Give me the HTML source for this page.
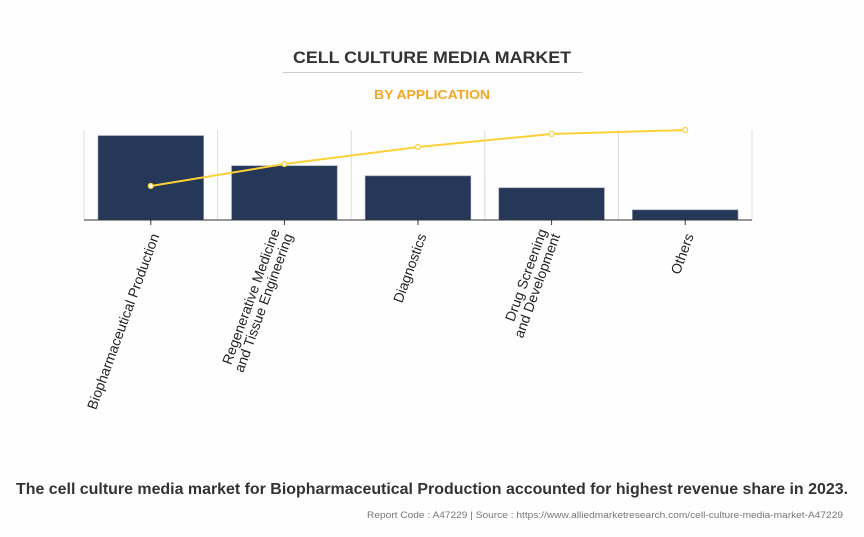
<!DOCTYPE html>
<html><head><meta charset="utf-8"><style>
html,body{margin:0;padding:0;background:#fefefe;}
svg{display:block;font-family:"Liberation Sans",Arial,sans-serif;}
</style></head><body>
<svg id="chart" width="864" height="537" viewBox="0 0 864 537" xmlns="http://www.w3.org/2000/svg">
<rect x="0" y="0" width="864" height="537" fill="#fefefe"/>
<text x="432" y="63" text-anchor="middle" font-size="17" font-weight="bold" fill="#333" textLength="278" lengthAdjust="spacingAndGlyphs">CELL CULTURE MEDIA MARKET</text>
<line x1="283" y1="72.5" x2="582" y2="72.5" stroke="#ccc" stroke-width="1"/>
<text x="432" y="99" text-anchor="middle" font-size="13" font-weight="bold" fill="#f5a623" textLength="116" lengthAdjust="spacingAndGlyphs">BY APPLICATION</text>
<g id="grid"></g>
<g id="bars"></g>
<line x1="84" y1="220" x2="752" y2="220" stroke="#333" stroke-width="1"/>
<g id="ticks"></g>
<g id="line"></g>
<g id="labels"></g>
<text x="432" y="494" text-anchor="middle" font-size="16" font-weight="bold" fill="#333" textLength="832" lengthAdjust="spacingAndGlyphs">The cell culture media market for Biopharmaceutical Production accounted for highest revenue share in 2023.</text>
<text x="843" y="518" text-anchor="end" font-size="9" fill="#777" textLength="476" lengthAdjust="spacingAndGlyphs">Report Code : A47229  |  Source : https://www.alliedmarketresearch.com/cell-culture-media-market-A47229</text>
</svg>
<script>
const categories = [["Biopharmaceutical Production"],["Regenerative Medicine","and Tissue Engineering"],["Diagnostics"],["Drug Screening","and Development"],["Others"]];
const shareValues = [37.5, 24.1, 19.6, 14.3, 4.5];
const cumulativeValues = [37.8, 62.2, 81.1, 95.6, 100];

const NS = "http://www.w3.org/2000/svg";
const X0 = 84, X1 = 752, YB = 220, YT = 130;
const step = (X1 - X0) / categories.length;
function xBand(i){ return X0 + i * step; }
function xCenter(i){ return X0 + (i + 0.5) * step; }
function yBar(v){ return YB - (v / 40) * (YB - YT); }
function yLine(v){ return YB - (v / 100) * (YB - YT); }
function mk(tag, attrs, parent){ const e = document.createElementNS(NS, tag); for (const k in attrs) e.setAttribute(k, attrs[k]); parent.appendChild(e); return e; }

const grid = document.getElementById('grid');
for (let i = 0; i <= categories.length; i++) {
  const g = mk('line', {x1: xBand(i), x2: xBand(i), y1: YT, y2: YB, stroke: '#ddd', 'stroke-width': 1}, grid);
  
  
}
const bars = document.getElementById('bars');
shareValues.forEach((v, i) => {
  const y = yBar(v);
  const r = mk('rect', {x: xBand(i) + 14, y: y, width: step - 28, height: YB - y, fill: '#253858', stroke: '#8a94a8', 'stroke-width': 0.6}, bars);
  
  
});
const ticks = document.getElementById('ticks');
categories.forEach((c, i) => {
  const t = mk('line', {x1: xCenter(i), x2: xCenter(i), y1: YB, y2: YB + 5, stroke: '#333'}, ticks);
  
  
});
const lg = document.getElementById('line');
const pts = cumulativeValues.map((v, i) => xCenter(i) + ',' + yLine(v)).join(' ');
const pl = mk('polyline', {points: pts, fill: 'none', stroke: '#fdd036', 'stroke-width': 2}, lg);


cumulativeValues.forEach((v, i) => {
  const c = mk('circle', {cx: xCenter(i), cy: yLine(v), r: 2.5, fill: '#fff', stroke: '#fdd036', 'stroke-width': 1.2}, lg);
  
  
});
const labels = document.getElementById('labels');
categories.forEach((lines, i) => {
  const x = xCenter(i) + 4, y = YB + 14;
  const t = mk('text', {transform: 'translate(' + x + ',' + y + ') rotate(-70)', 'text-anchor': 'end', 'font-size': 14, fill: '#222'}, labels);
  
  
  const off = (lines.length - 1) * 14;
  lines.forEach((s, j) => {
    const sp = mk('tspan', {x: 0, y: (j * 14 - off + 5)}, t);
    sp.textContent = s;
  });
});
</script>
</body></html>
